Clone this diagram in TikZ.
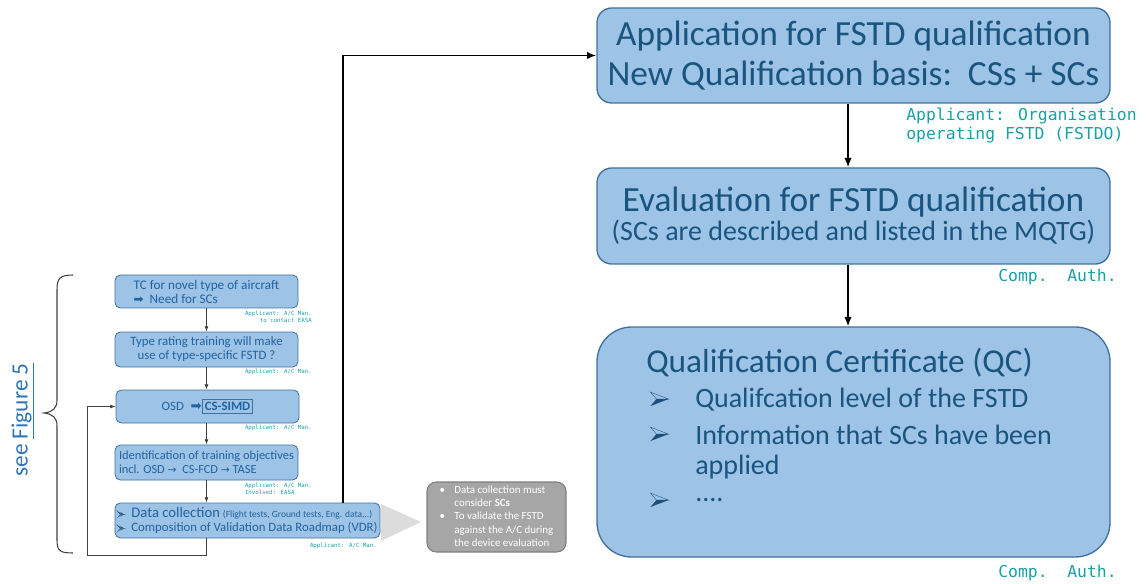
\documentclass[tikz,border=0pt]{standalone}
\usepackage{fontspec}
\setmainfont{Carlito}
\newfontfamily\monof{DejaVu Sans Mono}
\newfontfamily\symf{DejaVu Sans}
\usetikzlibrary{arrows.meta}
\definecolor{bxfill}{HTML}{9DC3E6}
\definecolor{bxline}{HTML}{41719C}
\definecolor{txtR}{HTML}{1A557F}
\definecolor{txtL}{HTML}{2263A0}
\definecolor{tealL}{HTML}{17A2A2}
\definecolor{grayF}{HTML}{A6A6A6}
\definecolor{grayD}{HTML}{7F7F7F}
\definecolor{grayT}{HTML}{DCDCDC}
\definecolor{lineG}{HTML}{404040}
\definecolor{seeblue}{HTML}{2E75B6}
\definecolor{bulD}{HTML}{1F4E79}
\newcommand\PXu{*0.75pt}
% arrowhead bullet (like Wingdings "3D arrowhead")
\newcommand\abul[1]{\tikz[baseline=-0.5ex, x=#1, y=#1]{%
  \fill[bulD] (-3,0) -- (9,0) -- (-9,-7) -- cycle;
  \draw[bulD, line width=0.25pt, line join=miter] (-9,7) -- (9,0) -- (-3,0) -- cycle;}}
\begin{document}
\begin{tikzpicture}[x=0.75pt,y=-0.75pt,
  lbox/.style={draw=bxline, fill=bxfill, rounded corners=4pt, line width=0.6pt, inner sep=0pt,
    align=center, text=txtL, font=\fontsize{9.6}{11.5}\selectfont},
  rbox/.style={draw=bxline, fill=bxfill, line width=1pt, inner sep=0pt, align=center, text=txtR},
  gbox/.style={draw=grayD, fill=grayF, rounded corners=7pt, line width=0.8pt, inner sep=0pt,
    text=white, font=\fontsize{8.2}{10}\selectfont},
  lab/.style={text=tealL, font=\monof\fontsize{4.3}{5.4}\selectfont, inner sep=0pt},
  rlab/.style={text=tealL, font=\monof\fontsize{12.3}{14.2}\selectfont, inner sep=0pt, align=left},
  larr/.style={draw=lineG, line width=0.6pt, -{Latex[length=4pt,width=3pt]}},
  rarr/.style={draw=black, line width=1.1pt, -{Latex[length=7pt,width=5.5pt]}},
  ctext/.style={text=txtR, inner sep=0pt, anchor=west}
]
\useasboundingbox (0,0) rectangle (1148,584);

% ---------- left column ----------
\node[lbox, align=left, minimum width=183\PXu, minimum height=33\PXu, font=\fontsize{9.9}{11.5}\selectfont] (b1) at (206.5,291.5)
  {TC for novel type of aircraft\\[-1pt]{\symf\fontsize{9}{9}\selectfont ➡}\ \ Need for SCs};
\node[lbox, minimum width=183\PXu, minimum height=35\PXu] (b2) at (206.5,349.5)
  {Type rating training will make\\[-1pt]use of type-specific FSTD ?};
\begingroup\setlength\fboxsep{1.5pt}\setlength\fboxrule{0.8pt}
\node[lbox, minimum width=183\PXu, minimum height=33\PXu] (b3) at (207.5,406.5)
  {OSD\hspace{5pt}{\symf\fontsize{10}{10}\selectfont ➡}\fcolorbox{bxline}{bxfill}{\textbf{CS-SIMD}}};
\endgroup
\node[lbox, align=left, minimum width=183\PXu, minimum height=35\PXu, font=\fontsize{9.3}{11.5}\selectfont] (b4) at (206.5,462.5)
  {Identification of training objectives\\[-1pt]incl. OSD {\symf\fontsize{8}{8}\selectfont →}\ \ CS-FCD {\symf\fontsize{8}{8}\selectfont →}\ TASE};
\node[lbox, align=left, minimum width=265\PXu, minimum height=35\PXu] (b5) at (247.5,520.5)
  {\abul{0.33pt}\ \ {\fontsize{11}{11.5}\selectfont Data collection} {\fontsize{7.1}{8}\selectfont (Flight tests, Ground tests, Eng. data,..)}\\[-1pt]
   \abul{0.33pt}\ \ Composition of Validation Data Roadmap (VDR)};

\node[lab, anchor=north east, align=right] (l1) at (312,311) {Applicant: A/C Man.\\to contact EASA};
\node[lab, anchor=north east] (l2) at (312,369) {Applicant: A/C Man.};
\node[lab, anchor=north east] (l3) at (312,425) {Applicant: A/C Man.};
\node[lab, anchor=north east, align=left] (l4) at (312,483) {Applicant: A/C Man.\\Involved: EASA};
\node[lab, anchor=north east] (l5) at (377,543) {Applicant: A/C Man.};

\draw[larr] (b1.south -| b2.north) -- (b2.north);
\draw[larr] (b2) -- (b3.north -| b2.south);
\draw[larr] (b3.south -| b2.south) -- (b4.north);
\draw[larr] (b4.south) -- (b4.south |- b5.north);
\coordinate (lp) at (87,555);
\draw[larr] (b4.south |- b5.south) |- (lp) |- (b3.west);

% brace and side text
\draw[lineG, line width=0.8pt] (73,275) .. controls (60,275) and (57,278) .. (57,290)
  -- (57,400) .. controls (57,408) and (53,412) .. (44,413)
  .. controls (53,414) and (57,418) .. (57,426)
  -- (57,540) .. controls (57,551) and (60,553) .. (73,553);
\node[rotate=90, text=seeblue, font=\fontsize{17.5}{20}\selectfont, inner sep=0pt] (see) at (23,420) {see \underline{Figure 5}};

% grey note
\fill[grayT] (381,504) -- (421,522) -- (381,541) -- cycle;
\node[gbox, minimum width=139\PXu, minimum height=70\PXu] (g) at (496.5,517)
  {\begin{tabular}{@{}l@{\hspace{7pt}}l@{}}•& Data collection must\\ & consider \textbf{SCs}\\ •& To validate the FSTD\\ & against the A/C during\\ & the device evaluation\end{tabular}};

% ---------- right column ----------
\node[rbox, rounded corners=11pt, minimum width=513\PXu, minimum height=95\PXu,
  font=\fontsize{26.5}{30}\selectfont] (A) at (853.5,55.5)
  {Application for FSTD qualification\\New Qualification basis:\ \ CSs + SCs};
\node[rbox, rounded corners=11pt, minimum width=513\PXu, minimum height=96\PXu] (B) at (853.5,216)
  {{\fontsize{26.5}{30}\selectfont Evaluation for FSTD qualification}\\[1pt]{\fontsize{21}{24}\selectfont (SCs are described and listed in the MQTG)}};
\node[rbox, rounded corners=26pt, minimum width=513\PXu, minimum height=230\PXu] (C) at (853.5,442) {};

\node[ctext, font=\fontsize{25}{30}\selectfont] (ct) at (646,363) {Qualification Certificate (QC)};
\node[ctext] (k1) at (650,399) {\abul{0.75pt}};
\node[ctext, font=\fontsize{21}{24}\selectfont] (t1) at (695,400) {Qualifcation level of the FSTD};
\node[ctext] (k2) at (650,434) {\abul{0.75pt}};
\node[ctext, font=\fontsize{21}{24}\selectfont] (t2) at (695,435) {Information that SCs have been};
\node[ctext, font=\fontsize{21}{24}\selectfont] (t3) at (695,467) {applied};
\node[ctext] (k3) at (650,500) {\abul{0.75pt}};
\node[ctext, font=\fontsize{21}{24}\selectfont] (t4) at (695,500) {....};

\node[rlab, anchor=north west] (ra) at (906,108) {Applicant: Organisation\\operating FSTD (FSTDO)};
\node[rlab, anchor=east] (rb) at (1117,277) {Comp.\ \ Auth.};
\node[rlab, anchor=east] (rc) at (1117,573) {Comp.\ \ Auth.};

\draw[rarr] (A.south -| 848,0) -- (B.north -| 848,0);
\draw[rarr] (B.south -| 848,0) -- (C.north -| 848,0);
\coordinate (mx) at (343,0);
\draw[rarr, line width=1.3pt] (b5.north -| mx) |- (A.west);
\end{tikzpicture}
\end{document}
